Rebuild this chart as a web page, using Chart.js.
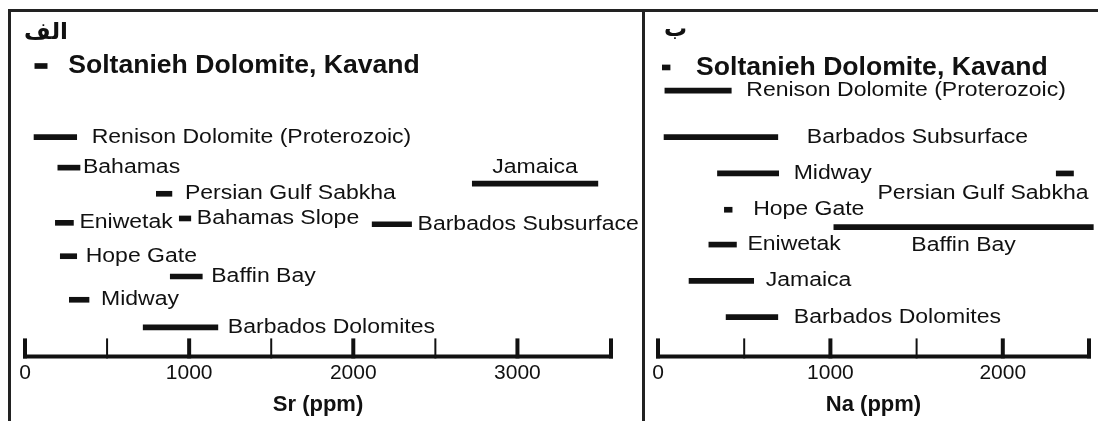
<!DOCTYPE html>
<html>
<head>
<meta charset="utf-8">
<script src="https://cdn.jsdelivr.net/npm/chart.js@4.4.0/dist/chart.umd.min.js"></script>
<style>
  body { margin: 0; background: #fff; }
  #wrap { position: relative; width: 1098px; height: 421px; overflow: hidden; background: #fff; }
  .line { position: absolute; background: #222; }
  canvas { position: absolute; }
</style>
</head>
<body>
<div id="wrap">
  <div class="line" style="left:8px;top:9px;width:1090px;height:3px;"></div>
  <div class="line" style="left:8px;top:9px;width:3px;height:412px;"></div>
  <div class="line" style="left:642px;top:9px;width:3px;height:412px;"></div>
  <canvas id="chartSr" width="631" height="409" style="left:11px;top:12px;"></canvas>
  <canvas id="chartNa" width="453" height="409" style="left:645px;top:12px;"></canvas>
</div>
<script>
// --- panel الف : Sr (ppm)
const srNames = ['Soltanieh Dolomite, Kavand', 'Renison Dolomite (Proterozoic)', 'Bahamas', 'Jamaica',
  'Persian Gulf Sabkha', 'Bahamas Slope', 'Eniwetak', 'Barbados Subsurface', 'Hope Gate',
  'Baffin Bay', 'Midway', 'Barbados Dolomites'];
const srLow  = [60, 55, 200, 2725, 800, 940, 185, 2115, 215, 885, 270, 720];
const srHigh = [135, 315, 335, 3490, 895, 1010, 295, 2355, 315, 1080, 390, 1175];
const srRow  = [0, 2.45, 3.5, 4.05, 4.4, 5.25, 5.4, 5.45, 6.55, 7.25, 8.05, 9.0];
const srTicks = [0, 500, 1000, 1500, 2000, 2500, 3000];
const srMax = 3570;

// --- panel ب : Na (ppm)
const naNames = ['Soltanieh Dolomite, Kavand', 'Renison Dolomite (Proterozoic)', 'Barbados Subsurface',
  'Midway', 'Persian Gulf Sabkha', 'Hope Gate', 'Baffin Bay', 'Eniwetak', 'Jamaica', 'Barbados Dolomites'];
const naLow  = [25, 40, 35, 345, 2310, 385, 1020, 295, 180, 395];
const naHigh = [70, 425, 695, 700, 2410, 430, 2525, 455, 555, 695];
const naRow  = [0.05, 0.85, 2.45, 3.7, 3.7, 4.95, 5.55, 6.15, 7.4, 8.65];
const naTicks = [0, 500, 1000, 1500, 2000];
const naMax = 2500;

// label placement (layout only)
const srLabelPos = ['bold', 'right', 'right', 'above', 'right', 'right', 'right', 'right', 'right', 'right', 'right', 'right'];
const srLabelGap = [21, 15, 3, 16, 13, 6, 6, 6, 9, 9, 12, 10];
const naLabelPos = ['bold', 'right', 'right', 'right', 'belowRight', 'right', 'below', 'right', 'right', 'right'];
const naLabelGap = [26, 15, 29, 15, 15, 21, 18, 11, 12, 16];

const INK = '#111';
const FONT = '"Liberation Sans", Arial, sans-serif';

// texto algo ensanchado como en la figura original
function drawText(ctx, text, x, y, align, font, sx) {
  ctx.save();
  ctx.font = font;
  ctx.textBaseline = 'middle';
  ctx.textAlign = 'left';
  const w = ctx.measureText(text).width * sx;
  let left = x;
  if (align === 'center') left = x - w / 2;
  else if (align === 'right') left = x - w;
  ctx.translate(left, y);
  ctx.scale(sx, 1);
  ctx.fillStyle = INK;
  ctx.fillText(text, 0, 0);
  ctx.restore();
}

function makePanel(canvasId, p) {
  const points = p.names.map((n, i) => ({ x: [p.low[i], p.high[i]], y: p.row[i] }));

  const decor = {
    id: 'decor',
    beforeDatasetsDraw(chart) {
      // eje horizontal con marcas hacia arriba
      const c = chart.ctx;
      const sx = chart.scales.x;
      const yb = chart.chartArea.bottom;
      c.save();
      c.strokeStyle = INK;
      c.lineWidth = 4;
      c.beginPath();
      c.moveTo(sx.getPixelForValue(0) - 2, yb);
      c.lineTo(sx.getPixelForValue(p.max) + 2, yb);
      c.stroke();
      p.ticks.concat([p.max]).forEach(v => {
        const major = v % 1000 === 0 || v === p.max;
        const px = sx.getPixelForValue(v);
        c.lineWidth = major ? 4 : 2;
        c.beginPath();
        c.moveTo(px, yb - 18);
        c.lineTo(px, yb + 2);
        c.stroke();
      });
      c.restore();
    },
    afterDatasetsDraw(chart) {
      const c = chart.ctx;
      // letra del panel
      c.save();
      c.font = 'bold 23px "DejaVu Sans"';
      c.fillStyle = INK;
      c.textAlign = 'right';
      c.textBaseline = 'alphabetic';
      c.fillText(p.letter, p.letterX, p.letterY);
      c.restore();

      const meta = chart.getDatasetMeta(0);
      meta.data.forEach((bar, i) => {
        const pos = p.labelPos[i];
        const gap = p.labelGap[i];
        const name = p.names[i];
        const regular = '20px ' + FONT;
        if (pos === 'bold') {
          drawText(c, name, bar.x + gap, bar.y, 'left', 'bold 26.6px ' + FONT, 1);
        } else if (pos === 'above') {
          drawText(c, name, (bar.x + bar.base) / 2, bar.y - gap, 'center', regular, 1.15);
        } else if (pos === 'below') {
          drawText(c, name, (bar.x + bar.base) / 2, bar.y + gap, 'center', regular, 1.15);
        } else if (pos === 'belowRight') {
          drawText(c, name, bar.x + gap, bar.y + 20, 'right', regular, 1.15);
        } else {
          drawText(c, name, bar.x + gap, bar.y, 'left', regular, 1.15);
        }
      });
    }
  };

  return new Chart(document.getElementById(canvasId).getContext('2d'), {
    type: 'bar',
    data: {
      datasets: [{
        data: points,
        backgroundColor: INK,
        borderWidth: 0,
        barThickness: 5,
        clip: false
      }]
    },
    options: {
      indexAxis: 'y',
      responsive: false,
      animation: false,
      layout: { padding: { top: 54, left: p.padLeft, right: p.padRight, bottom: 0 } },
      plugins: { legend: { display: false }, tooltip: { enabled: false } },
      scales: {
        y: {
          type: 'linear',
          display: false,
          reverse: true,
          offset: false,
          min: 0,
          max: 10
        },
        x: {
          type: 'linear',
          min: 0,
          max: p.max,
          grid: { display: false, drawTicks: false },
          border: { display: false },
          afterBuildTicks: (scale) => {
            scale.ticks = p.ticks.concat([p.max]).map(v => ({ value: v }));
          },
          ticks: {
            autoSkip: false,
            maxRotation: 0,
            padding: 4,
            color: INK,
            font: { family: FONT, size: 21 },
            callback: (v) => (v % 1000 === 0 && v !== p.max) ? String(v) : ''
          },
          title: {
            display: true,
            text: p.title,
            color: INK,
            font: { family: FONT, size: 22, weight: 'bold' },
            padding: { top: 2, bottom: 3 }
          }
        }
      }
    },
    plugins: [decor]
  });
}

makePanel('chartSr', {
  names: srNames, low: srLow, high: srHigh, row: srRow,
  ticks: srTicks, max: srMax, title: 'Sr (ppm)',
  labelPos: srLabelPos, labelGap: srLabelGap,
  letter: 'الف', letterX: 57, letterY: 27,
  padLeft: 14, padRight: 31
});

makePanel('chartNa', {
  names: naNames, low: naLow, high: naHigh, row: naRow,
  ticks: naTicks, max: naMax, title: 'Na (ppm)',
  labelPos: naLabelPos, labelGap: naLabelGap,
  letter: 'ب', letterX: 42, letterY: 24,
  padLeft: 13, padRight: 9
});
</script>
</body>
</html>
